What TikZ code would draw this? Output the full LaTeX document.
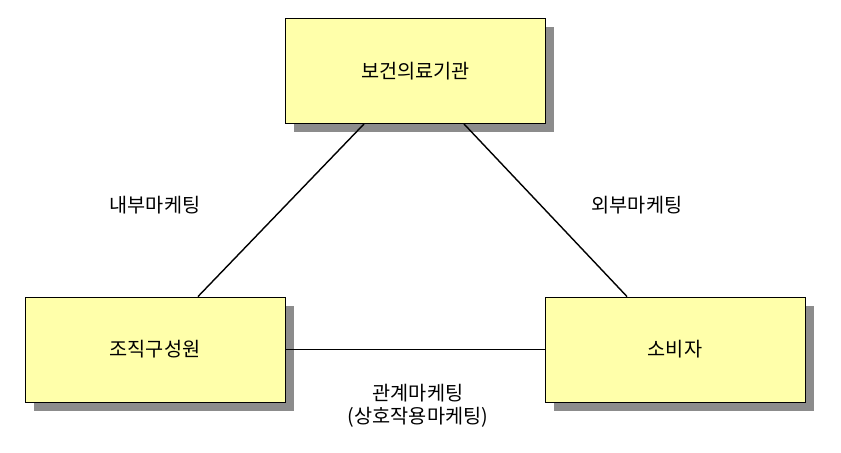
\documentclass[tikz,border=0pt]{standalone}
\usepackage{fontspec}
\setmainfont{Noto Sans CJK KR}
\usetikzlibrary{shadows}
\definecolor{boxfill}{HTML}{FFFFAA}
\definecolor{shadowgray}{HTML}{8C8C8C}
\begin{document}
\begin{tikzpicture}[x=0.025cm,y=-0.025cm]
        % Define styles
        \tikzset{
            orgbox/.style={rectangle, draw, fill=boxfill, line width=0.6pt, minimum width=6.5cm, minimum height=2.625cm, font=\fontsize{14}{16}\selectfont, drop shadow={shadow xshift=0.22cm, shadow yshift=-0.22cm, fill=shadowgray, opacity=1}},
            link/.style={line width=1pt},
            tag/.style={font=\fontsize{14}{16}\selectfont, align=center}
        }
        \useasboundingbox (0,0) rectangle (841,453);

        % Nodes
        \node[orgbox] (hospital) at (415.5,71) {보건의료기관};
        \node[orgbox] (staff) at (155,349.5) {조직구성원};
        \node[orgbox] (consumer) at (675,349.5) {소비자};

        % Connectors
        \draw[link] (hospital.south west) ++(79,0) coordinate (a1) (a1) -- ([xshift=43*0.025cm]staff.north);
        \draw[link] (hospital.south east) ++(-82,0) coordinate (a2) (a2) -- ([xshift=-48*0.025cm]consumer.north);
        \draw[link] (staff) -- (consumer);

        % Labels
        \node[tag] (inner) at (155,205) {내부마케팅};
        \node[tag] (outer) at (637,205) {외부마케팅};
        \node[tag] (relation) at (418,406) {관계마케팅\\(상호작용마케팅)};
    \end{tikzpicture}
\end{document}
